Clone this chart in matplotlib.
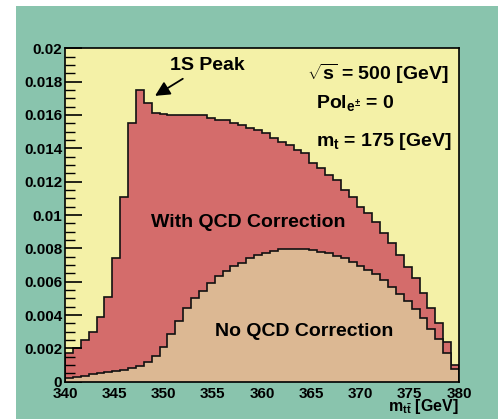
import numpy as np
import matplotlib
matplotlib.use("Agg")
import matplotlib.pyplot as plt
from matplotlib.patches import Rectangle
from matplotlib.ticker import MultipleLocator, FuncFormatter

# m_tt histograms, 50 bins of 0.8 GeV between 340 and 380
bin_edges = np.linspace(340, 380, 51)
with_qcd = [0.0017, 0.0020, 0.0025, 0.0030, 0.0039, 0.0051, 0.0074, 0.0111, 0.0155, 0.0175,
            0.0167, 0.0161, 0.01606, 0.0160, 0.0160, 0.0160, 0.0160, 0.0160, 0.01584, 0.0157,
            0.0157, 0.0155, 0.0154, 0.0152, 0.0151, 0.0149, 0.0146, 0.0144, 0.0142, 0.0139,
            0.0137, 0.0131, 0.0128, 0.0124, 0.0121, 0.0115, 0.0111, 0.0105, 0.0101, 0.0096,
            0.0089, 0.0083, 0.0076, 0.0069, 0.0062, 0.0053, 0.0044, 0.0035, 0.0024, 0.0010]
no_qcd = [0.00024, 0.0003, 0.00034, 0.00044, 0.0005, 0.00056, 0.00062, 0.0007, 0.0008, 0.00094,
          0.00116, 0.00156, 0.0021, 0.00286, 0.00366, 0.0044, 0.0050, 0.00544, 0.00594, 0.00634,
          0.00666, 0.00694, 0.00714, 0.00744, 0.0076, 0.00774, 0.00784, 0.00794, 0.00794, 0.00794,
          0.00794, 0.00788, 0.0078, 0.0077, 0.00754, 0.0074, 0.0072, 0.00694, 0.0067, 0.00644,
          0.0061, 0.0057, 0.00526, 0.00484, 0.00436, 0.0038, 0.00314, 0.00254, 0.00174, 0.00078]

plt.rcParams['font.family'] = ['Liberation Sans', 'DejaVu Sans']
plt.rcParams['font.weight'] = 'bold'
plt.rcParams['mathtext.fontset'] = 'custom'
plt.rcParams['mathtext.rm'] = 'Liberation Sans:bold'
plt.rcParams['mathtext.it'] = 'Liberation Sans:bold'
plt.rcParams['mathtext.bf'] = 'Liberation Sans:bold'

teal = '#89c4ad'
yellow = '#f4f1a7'
red = '#d46c6b'
tan = '#dcb893'

fig = plt.figure(figsize=(4.98, 4.19), dpi=100, facecolor='white')
# teal canvas, white strip left and top
fig.patches.append(Rectangle((16 / 498, 0), 1, 413 / 419, transform=fig.transFigure,
                             facecolor=teal, edgecolor='none', zorder=-10))

ax = fig.add_axes([65 / 498, 1 - 381.7 / 419, 394 / 498, 333.4 / 419])
ax.set_facecolor(yellow)

ax.stairs(with_qcd, bin_edges, fill=True, color=red, zorder=1)
ax.stairs(with_qcd, bin_edges, color='#111111', lw=1.2, zorder=1.5)
ax.stairs(no_qcd, bin_edges, fill=True, color=tan, zorder=1.6)
ax.stairs(no_qcd, bin_edges, color='#111111', lw=1.2, zorder=1.7)

ax.set_xlim(340, 380)
ax.set_ylim(0, 0.02)
ax.xaxis.set_major_locator(MultipleLocator(5))
ax.yaxis.set_major_locator(MultipleLocator(0.002))
ax.yaxis.set_minor_locator(MultipleLocator(0.0005))
ax.yaxis.set_major_formatter(FuncFormatter(lambda v, p: '%g' % round(v, 4)))
ax.tick_params(axis='y', which='major', direction='in', length=12, width=1.2, labelsize=11, pad=2)
ax.tick_params(axis='y', which='minor', direction='in', length=7, width=1.0)
ax.tick_params(axis='x', which='both', length=0, labelsize=11, pad=4)
for s in ax.spines.values():
    s.set_color('black')
    s.set_linewidth(1.2)
    s.set_zorder(3)

# labels in the plot
ax.text(358.6, 0.00954, 'With QCD Correction', fontsize=14, ha='center', va='center')
ax.text(364.3, 0.0030, 'No QCD Correction', fontsize=14, ha='center', va='center')
ax.text(354.4, 0.01896, '1S Peak', fontsize=14, ha='center', va='center')
ax.annotate('', xy=(348.9, 0.01706), xytext=(352.2, 0.01826),
            arrowprops=dict(arrowstyle='-|>', color='black', lw=1.3, mutation_scale=22))
ax.text(364.6, 0.01846, r'$\sqrt{s}$ = 500 [GeV]', fontsize=14, ha='left', va='center')
ax.text(365.5, 0.0167, r'Pol$_{\mathregular{e^{\pm}}}$ = 0', fontsize=14, ha='left', va='center')
ax.text(365.5, 0.0144, r'm$_{\mathregular{t}}$ = 175 [GeV]', fontsize=14, ha='left', va='center')
ax.text(1.0, -0.089, r'm$_{\mathregular{t\bar{t}}}$ [GeV]', transform=ax.transAxes,
        fontsize=11.5, ha='right', va='baseline')

fig.savefig('out.png', dpi=100, facecolor=fig.get_facecolor())
